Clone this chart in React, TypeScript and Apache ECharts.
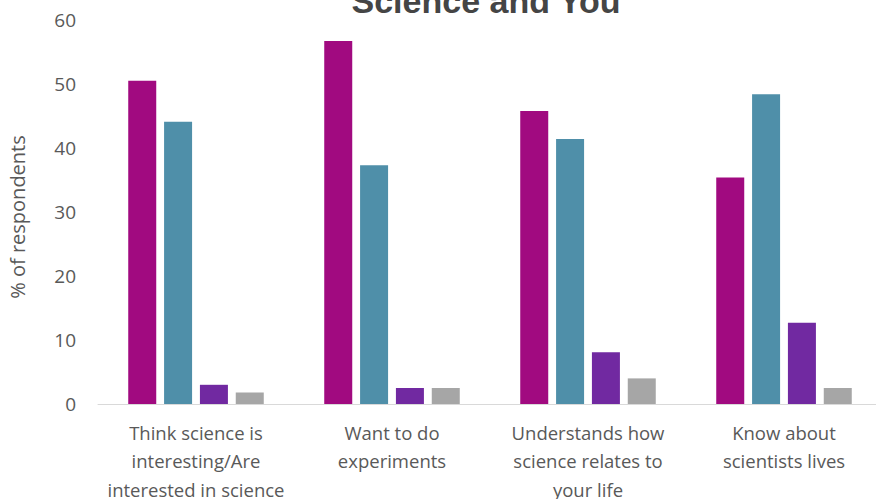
import React, { useEffect, useRef } from "react";
import * as echarts from "echarts";

const categories = [
  "Think science is\ninteresting/Are\ninterested in science",
  "Want to do\nexperiments",
  "Understands how\nscience relates to\nyour life",
  "Know about\nscientists lives",
];
const series1 = [50.5, 56.7, 45.8, 35.4];
const series2 = [44.1, 37.3, 41.4, 48.4];
const series3 = [3.0, 2.5, 8.1, 12.7];
const series4 = [1.8, 2.5, 4.0, 2.5];
const colors = ["#A10A80", "#4F8FA9", "#7129A1", "#A6A6A6"];
const titleText = "Science and You";
const yName = "% of respondents";

export default function App() {
  const ref = useRef<HTMLDivElement>(null);
  useEffect(() => {
    const chart = echarts.init(ref.current!, null, { renderer: "svg" });
    const mk = (data: number[], i: number) => ({
      type: "bar",
      data,
      barWidth: 28,
      barGap: "28%",
      itemStyle: { color: colors[i] },
    });
    chart.setOption({
      animation: false,
      graphic: [
        {
          type: "text",
          x: 486,
          y: 1,
          style: {
            text: titleText,
            textAlign: "center",
            textVerticalAlign: "middle",
            fontFamily: "Liberation Sans",
            fontWeight: "bold",
            fontSize: 34,
            fill: "#454545",
          },
        },
        {
          type: "text",
          x: 17,
          y: 217,
          rotation: Math.PI / 2,
          style: {
            text: yName,
            textAlign: "center",
            textVerticalAlign: "middle",
            fontFamily: "Open Sans",
            fontSize: 20,
            fill: "#595959",
          },
        },
      ],
      grid: {
        left: 98,
        top: 20,
        width: 784,
        height: 384,
        containLabel: false,
        outerBoundsMode: "none",
      },
      xAxis: {
        type: "category",
        data: categories,
        axisLine: { lineStyle: { color: "#D9D9D9", width: 1 } },
        axisTick: { show: false },
        axisLabel: {
          interval: 0,
          margin: 14,
          fontFamily: "Open Sans",
          fontSize: 18.5,
          lineHeight: 28.5,
          color: "#595959",
          verticalAlign: "top",
        },
      },
      yAxis: {
        type: "value",
        min: 0,
        max: 60,
        interval: 10,
        splitLine: { show: false },
        axisLine: { show: false },
        axisTick: { show: false },
        axisLabel: {
          margin: 22,
          fontFamily: "Open Sans",
          fontSize: 19,
          color: "#595959",
        },
      },
      series: [mk(series1, 0), mk(series2, 1), mk(series3, 2), mk(series4, 3)],
    });
    return () => chart.dispose();
  }, []);
  return (
    <div
      ref={ref}
      style={{ position: "fixed", left: 0, top: 0, width: 876, height: 499, background: "#fff" }}
    />
  );
}
